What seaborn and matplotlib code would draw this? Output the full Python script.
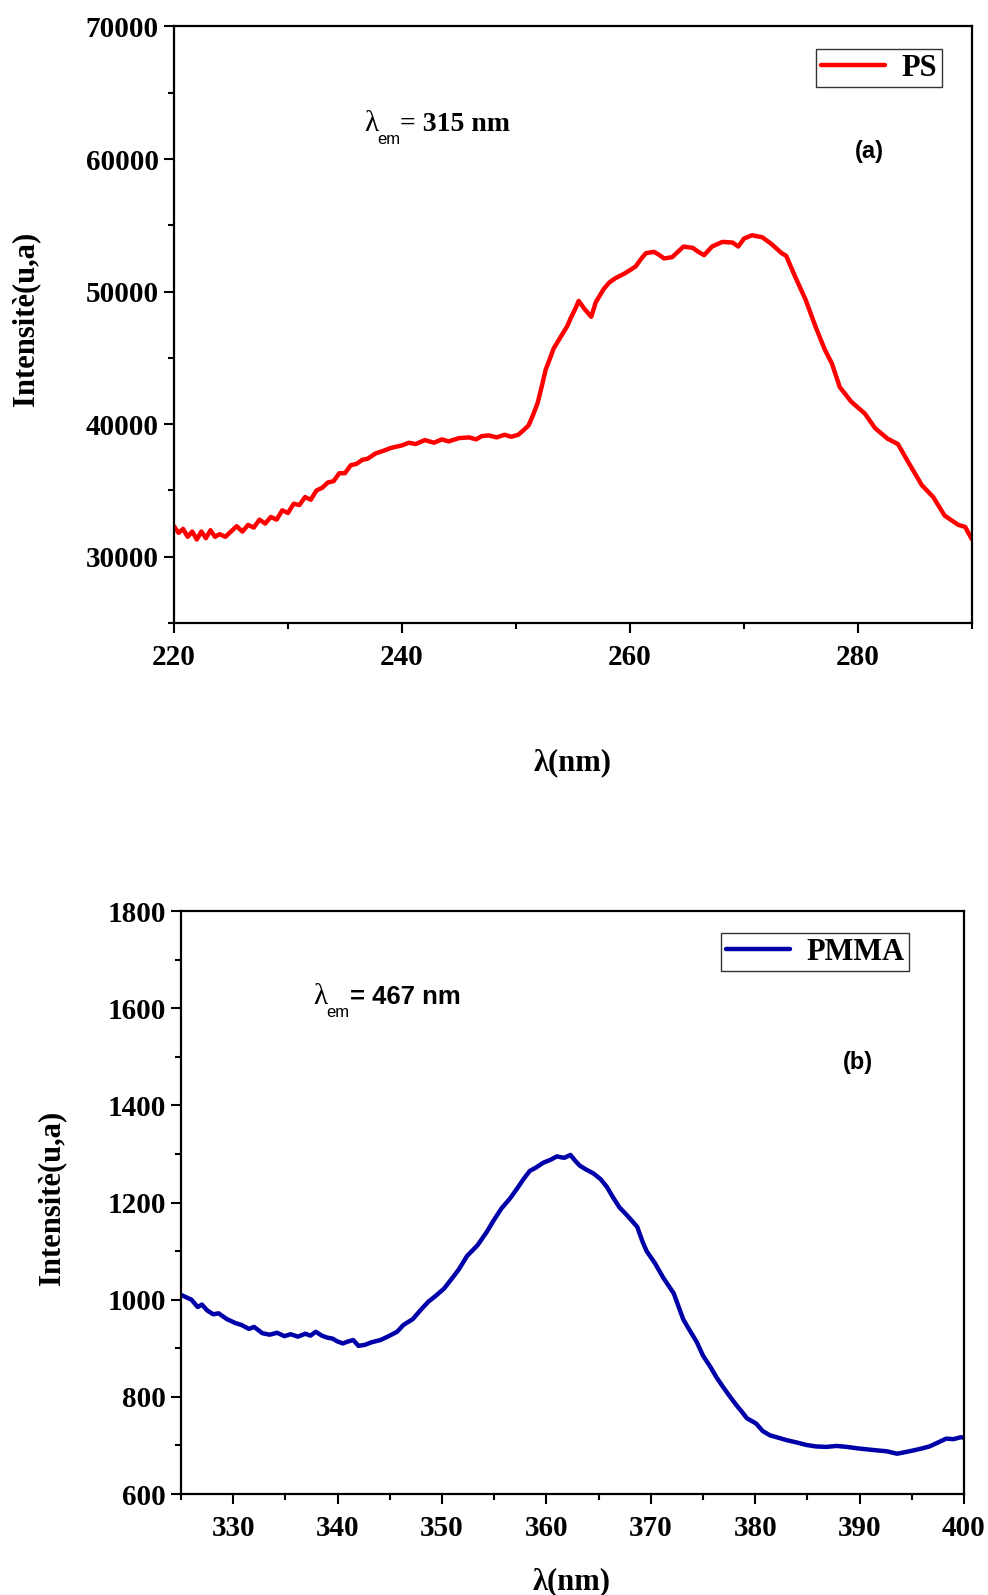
import numpy as np
import pandas as pd
import matplotlib
matplotlib.use("Agg")
import matplotlib.pyplot as plt
from matplotlib.ticker import MultipleLocator
import seaborn as sns

# ---------------- data ----------------
ps_wavelength = [
    220.0, 220.4, 220.8, 221.2, 221.6, 222.0, 222.4, 222.8, 223.2, 223.6,
    224.0, 224.5, 225.0, 225.5, 226.0, 226.5, 227.0, 227.5, 228.0, 228.5,
    229.0, 229.5, 230.0, 230.5, 231.0, 231.5, 232.0, 232.5, 233.0, 233.5,
    234.0, 234.5, 235.0, 235.5, 236.0, 236.5, 237.0, 237.7, 238.4, 239.0,
    240.0, 240.6, 241.2, 242.0, 242.8, 243.5, 244.1, 245.0, 245.9, 246.5,
    247.0, 247.6, 248.3, 249.0, 249.6, 250.2, 250.6, 251.1, 251.5, 251.9,
    252.3, 252.6, 253.0, 253.3, 254.0, 254.5, 254.8, 255.2, 255.5, 256.0,
    256.6, 257.0, 257.7, 258.2, 258.7, 259.6, 260.5, 261.0, 261.4, 262.1,
    262.5, 263.0, 263.7, 264.2, 264.7, 265.5, 266.0, 266.5, 267.2, 268.1,
    269.0, 269.5, 270.0, 270.7, 271.6, 272.4, 273.3, 273.7, 274.5, 275.4,
    276.3, 277.1, 277.7, 278.4, 279.4, 280.6, 281.5, 282.6, 283.5, 284.4,
    285.6, 286.6, 287.6, 288.8, 289.4, 290.0,
]
ps_intensity = [
    32300, 31800, 32100, 31500, 31900, 31300, 31900, 31400, 32000, 31500,
    31700, 31500, 31900, 32300, 31900, 32400, 32200, 32800, 32500, 33000,
    32800, 33500, 33300, 34000, 33900, 34500, 34300, 35000, 35200, 35600,
    35700, 36300, 36300, 36900, 37000, 37300, 37400, 37800, 38000, 38200,
    38400, 38600, 38500, 38800, 38600, 38850, 38700, 38950, 39000, 38850,
    39100, 39150, 39000, 39200, 39050, 39200, 39500, 39900, 40700, 41600,
    43000, 44100, 45000, 45700, 46700, 47400, 48000, 48700, 49300, 48700,
    48100, 49200, 50200, 50700, 51000, 51400, 51900, 52500, 52900, 53000,
    52800, 52500, 52600, 53000, 53400, 53300, 53000, 52750, 53400, 53750,
    53700, 53400, 54000, 54250, 54100, 53600, 52900, 52700, 51100, 49400,
    47300, 45600, 44600, 42800, 41700, 40800, 39700, 38900, 38500, 37150,
    35400, 34500, 33100, 32400, 32250, 31300,
]

pmma_wavelength = [
    325.0, 325.5, 326.0, 326.6, 327.0, 327.5, 328.1, 328.6, 329.4, 330.2,
    330.8, 331.5, 332.0, 332.8, 333.5, 334.2, 334.9, 335.5, 336.2, 336.9,
    337.4, 337.9, 338.5, 339.0, 339.5, 340.0, 340.5, 341.0, 341.5, 342.0,
    342.6, 343.2, 344.1, 344.8, 345.7, 346.3, 347.2, 348.0, 348.7, 349.4,
    350.2, 351.0, 351.6, 352.4, 353.4, 354.3, 355.0, 355.7, 356.5, 357.2,
    357.8, 358.4, 359.0, 359.7, 360.4, 361.0, 361.7, 362.3, 362.8, 363.2,
    363.8, 364.5, 365.2, 365.8, 366.4, 367.0, 367.8, 368.7, 369.2, 369.6,
    370.4, 371.2, 372.2, 373.1, 373.5, 374.4, 375.0, 375.7, 376.3, 376.9,
    377.6, 378.2, 378.7, 379.2, 380.1, 380.7, 381.4, 382.2, 383.0, 384.0,
    384.9, 385.8, 386.8, 387.8, 388.8, 389.8, 390.7, 391.6, 392.6, 393.6,
    394.3, 395.2, 396.0, 396.7, 397.5, 398.3, 399.0, 399.7, 400.0,
]
pmma_intensity = [
    1010, 1005, 1000, 985, 990, 978, 970, 972, 960, 952,
    948, 940, 944, 931, 928, 932, 925, 929, 924, 930,
    926, 934, 926, 922, 920, 914, 910, 914, 917, 905,
    907, 912, 917, 924, 934, 948, 960, 980, 996, 1008,
    1023, 1045, 1062, 1090, 1112, 1140, 1165, 1188, 1208, 1229,
    1248, 1265, 1272, 1282, 1288, 1295, 1292, 1298, 1285, 1276,
    1268, 1260, 1248, 1232, 1210, 1190, 1172, 1150, 1120, 1100,
    1075, 1045, 1013, 960, 945, 913, 885, 862, 840, 821,
    800, 783, 770, 756, 745, 730, 721, 716, 711, 706,
    701, 698, 697, 699, 697, 694, 692, 690, 688, 683,
    686, 690, 694, 698, 706, 714, 713, 717, 716,
]

ps_label = "PS"
pmma_label = "PMMA"
y_label = "Intensitè(u,a)"
x_label = "λ(nm)"

# ---------------- style ----------------
sns.set_style("ticks")
plt.rcParams["font.family"] = ["Liberation Serif", "DejaVu Serif"]
plt.rcParams["font.weight"] = "bold"
plt.rcParams["axes.labelweight"] = "bold"
plt.rcParams["text.color"] = "black"
plt.rcParams["axes.labelcolor"] = "black"
plt.rcParams["xtick.color"] = "black"
plt.rcParams["ytick.color"] = "black"

SERIF = ["Liberation Serif", "DejaVu Serif"]
SANS = ["Liberation Sans", "DejaVu Sans"]

fig = plt.figure(figsize=(9.88, 15.95), dpi=100)
ax1 = fig.add_axes([0.1761, 0.6094, 0.8077, 0.3740])
ax2 = fig.add_axes([0.1832, 0.0633, 0.7925, 0.3655])

df_ps = pd.DataFrame({"wl": ps_wavelength, "I": ps_intensity})
df_pm = pd.DataFrame({"wl": pmma_wavelength, "I": pmma_intensity})

sns.lineplot(data=df_ps, x="wl", y="I", ax=ax1, color="#FF0000", lw=3.2,
             label=ps_label, estimator=None, sort=False)
sns.lineplot(data=df_pm, x="wl", y="I", ax=ax2, color="#0000A8", lw=3.2,
             label=pmma_label, estimator=None, sort=False)

ax1.set_xlim(220, 290)
ax1.set_ylim(25000, 70000)
ax1.xaxis.set_major_locator(MultipleLocator(20))
ax1.xaxis.set_minor_locator(MultipleLocator(10))
ax1.yaxis.set_major_locator(MultipleLocator(10000))
ax1.yaxis.set_minor_locator(MultipleLocator(5000))

ax2.set_xlim(325, 400)
ax2.set_ylim(600, 1800)
ax2.xaxis.set_major_locator(MultipleLocator(10))
ax2.xaxis.set_minor_locator(MultipleLocator(5))
ax2.yaxis.set_major_locator(MultipleLocator(200))
ax2.yaxis.set_minor_locator(MultipleLocator(100))

for ax in (ax1, ax2):
    for sp in ax.spines.values():
        sp.set_visible(True)
        sp.set_linewidth(1.6)
        sp.set_color("black")
    ax.tick_params(which="both", direction="out", top=False, right=False,
                   width=1.5, color="black", labelcolor="black")
    ax.tick_params(which="major", length=7)
    ax.tick_params(which="minor", length=4)
    ax.tick_params(axis="y", which="major", pad=4)
    ax.tick_params(axis="x", which="major", pad=8)
    for lab in ax.get_xticklabels() + ax.get_yticklabels():
        lab.set_fontfamily(SERIF)
        lab.set_fontweight("bold")
        lab.set_fontsize(21)
    ax.set_ylabel(y_label, fontsize=22, fontweight="bold", family=SERIF,
                  color="black")
    ax.set_xlabel(x_label, fontsize=22, fontweight="bold", family=SERIF,
                  color="black")

ax1.yaxis.set_label_coords(-0.168, 0.51)
ax1.xaxis.set_label_coords(0.499, -0.21)
ax2.yaxis.set_label_coords(-0.147, 0.508)
ax2.xaxis.set_label_coords(0.499, -0.125)

# legends
leg1 = ax1.legend(loc="upper right", bbox_to_anchor=(0.962, 0.962),
                  borderaxespad=0, fancybox=False, frameon=True,
                  handlelength=2.1, handletextpad=0.55, borderpad=0.15,
                  prop={"family": SERIF, "weight": "bold", "size": 22})
leg2 = ax2.legend(loc="upper right", bbox_to_anchor=(0.930, 0.962),
                  borderaxespad=0, fancybox=False, frameon=True,
                  handlelength=2.1, handletextpad=0.55, borderpad=0.15,
                  prop={"family": SERIF, "weight": "bold", "size": 22})
for leg in (leg1, leg2):
    fr = leg.get_frame()
    fr.set_edgecolor("#333333")
    fr.set_linewidth(1.0)
    fr.set_alpha(1)
    for ln in leg.get_lines():
        ln.set_linewidth(3.2)
    for t in leg.get_texts():
        t.set_color("black")

fig.canvas.draw()
renderer = fig.canvas.get_renderer()


def lambda_em(ax, x, y, value_text, family_val, size_val):
    t1 = ax.text(x, y, "λ", transform=ax.transAxes, fontsize=21,
                 fontweight="normal", family=SERIF, va="baseline", ha="left")
    bb1 = t1.get_window_extent(renderer)
    base = ax.transAxes.transform((x, y))
    t2 = ax.text(bb1.x1 - 1, base[1] - 1, "em", transform=None, fontsize=12,
                 fontweight="normal", family=SANS, va="top", ha="left")
    bb2 = t2.get_window_extent(renderer)
    ax.text(bb2.x1, base[1], value_text, transform=None, fontsize=size_val,
            fontweight="bold", family=family_val, va="baseline", ha="left")


lambda_em(ax1, 0.238, 0.825, "= 315 nm", SERIF, 20)
lambda_em(ax2, 0.169, 0.84, "= 467 nm", SANS, 18.5)

ax1.text(0.872, 0.79, "(a)", transform=ax1.transAxes, fontsize=17,
         fontweight="bold", family=SANS, ha="center", va="center")
ax2.text(0.865, 0.741, "(b)", transform=ax2.transAxes, fontsize=17,
         fontweight="bold", family=SANS, ha="center", va="center")

fig.savefig("out.png", dpi=100, facecolor="white")
